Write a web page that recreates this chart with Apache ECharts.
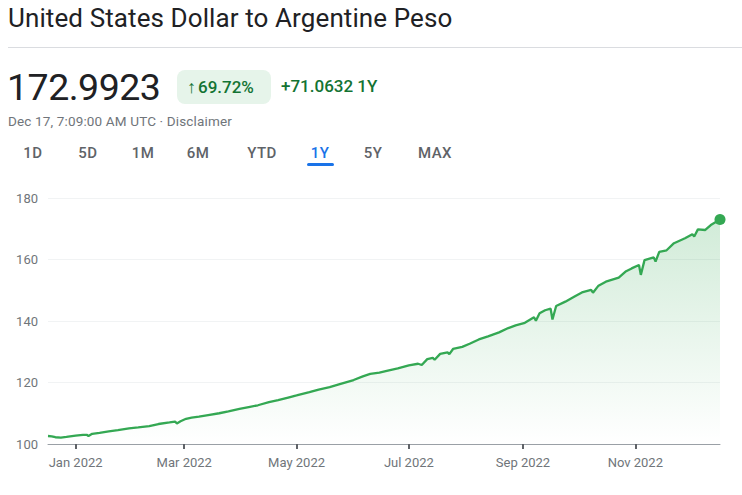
<!DOCTYPE html>
<html>
<head>
<meta charset="utf-8">
<script src="https://cdn.jsdelivr.net/npm/echarts@6/dist/echarts.min.js"></script>
<style>
  html, body { margin: 0; padding: 0; background: #fff; }
  body { width: 742px; height: 495px; position: relative; overflow: hidden; font-family: Roboto, "Noto Sans", sans-serif; }
  #chart { position: absolute; left: 0; top: 0; width: 742px; height: 495px; }
  .abs { position: absolute; white-space: nowrap; }
  #title { left: 8px; top: 3px; font-size: 26px; color: #202124; letter-spacing: 0.1px; }
  #rule { left: 8px; top: 47px; width: 734px; height: 1px; background: #dadce0; }
  #price { left: 7px; top: 65px; font-size: 37.5px; color: #202124; letter-spacing: -0.5px; }
  #pill { left: 177px; top: 70px; width: 94px; height: 34px; border-radius: 8px; background: #e6f4ea; }
  #pct { left: 187px; top: 76px; font-size: 17px; color: #137333; font-weight: 500; }
  #pct .ar { font-size: 18px; margin-right: 2px; }
  #chg { left: 281px; top: 76px; font-size: 17px; color: #137333; font-weight: 500; }
  #stamp { left: 8px; top: 113px; font-size: 13.5px; color: #70757a; letter-spacing: 0.15px; }
  .rng { top: 144px; font-size: 15px; color: #5f6368; font-weight: 500; transform: translateX(-50%); letter-spacing: 0.5px; }
  #ul { left: 307px; top: 163px; width: 27px; height: 3px; border-radius: 2px; background: #1a73e8; }
</style>
</head>
<body>
<div id="chart"></div>
<div class="abs" id="title">United States Dollar to Argentine Peso</div>
<div class="abs" id="rule"></div>
<div class="abs" id="price">172.9923</div>
<div class="abs" id="pill"></div>
<div class="abs" id="pct"><span class="ar">↑</span>69.72%</div>
<div class="abs" id="chg">+71.0632 1Y</div>
<div class="abs" id="stamp">Dec 17, 7:09:00 AM UTC · Disclaimer</div>
<div id="ranges"></div>
<div class="abs" id="ul"></div>
<script>
// ---- data ----
var dates = [
  '2021-12-17','2021-12-19','2021-12-21','2021-12-24','2021-12-27',
  '2022-01-01','2022-01-05','2022-01-07','2022-01-08','2022-01-10','2022-01-14','2022-01-19','2022-01-24','2022-01-30',
  '2022-02-04','2022-02-10','2022-02-15','2022-02-21','2022-02-24','2022-02-25','2022-02-27',
  '2022-03-02','2022-03-05','2022-03-09','2022-03-14','2022-03-20','2022-03-25','2022-03-31',
  '2022-04-05','2022-04-10','2022-04-16','2022-04-21','2022-04-27',
  '2022-05-01','2022-05-08','2022-05-13','2022-05-19','2022-05-24',
  '2022-06-01','2022-06-06','2022-06-10','2022-06-15','2022-06-19','2022-06-25',
  '2022-07-01','2022-07-06','2022-07-08','2022-07-11','2022-07-14','2022-07-15','2022-07-18','2022-07-22','2022-07-23','2022-07-25','2022-07-30',
  '2022-08-03','2022-08-08','2022-08-13','2022-08-19','2022-08-24','2022-08-28',
  '2022-09-02','2022-09-07','2022-09-08','2022-09-10','2022-09-13','2022-09-16','2022-09-17','2022-09-19','2022-09-24','2022-09-29',
  '2022-10-03','2022-10-08','2022-10-09','2022-10-12','2022-10-16','2022-10-23','2022-10-27','2022-10-30',
  '2022-11-03','2022-11-04','2022-11-06','2022-11-11','2022-11-12','2022-11-14','2022-11-18','2022-11-22','2022-11-28',
  '2022-12-02','2022-12-03','2022-12-05','2022-12-09','2022-12-12','2022-12-17'
];
var rates = [
  102.6,102.5,102.2,102.1,102.3,
  102.7,103.0,103.0,102.6,103.3,103.6,104.1,104.5,105.1,
  105.4,105.8,106.5,107.0,107.3,106.7,107.4,
  108.2,108.6,108.9,109.4,110.0,110.6,111.4,
  112.0,112.6,113.6,114.3,115.2,
  115.8,116.9,117.7,118.5,119.4,
  120.8,122.0,122.8,123.2,123.8,124.6,
  125.6,126.1,125.7,127.6,128.0,127.4,129.3,129.8,129.2,130.9,131.6,
  132.6,134.0,135.0,136.3,137.7,138.6,
  139.4,141.2,140.1,142.5,143.5,144.0,140.5,144.9,146.3,148.0,
  149.3,150.1,149.2,151.5,152.8,154.1,156.2,157.1,
  158.2,155.0,159.8,160.7,159.3,162.5,163.0,165.3,166.9,
  168.2,167.5,169.8,169.6,171.2,172.9923
];
var tickDates = ['2022-01-01','2022-03-01','2022-05-01','2022-07-01','2022-09-01','2022-11-01'];
var tickLabels = ['Jan 2022','Mar 2022','May 2022','Jul 2022','Sep 2022','Nov 2022'];
var yTicks = [100, 120, 140, 160, 180];
var rangeLabels = ['1D','5D','1M','6M','YTD','1Y','5Y','MAX'];

// ---- header range buttons ----
var rangeX = [33, 88, 143, 198, 262, 320, 373, 435];
var rc = document.getElementById('ranges');
rangeLabels.forEach(function (t, i) {
  var d = document.createElement('div');
  d.className = 'abs rng';
  d.style.left = rangeX[i] + 'px';
  d.textContent = t;
  if (t === '1Y') d.style.color = '#1a73e8';
  rc.appendChild(d);
});

// ---- chart ----
function ts(s) { var p = s.split('-'); return new Date(+p[0], +p[1] - 1, +p[2]).getTime(); }
var seriesData = dates.map(function (d, i) { return [ts(d), rates[i]]; });
var tickTs = tickDates.map(ts);
var last = seriesData[seriesData.length - 1];

var chart = echarts.init(document.getElementById('chart'), null, { renderer: 'svg' });
chart.setOption({
  animation: false,
  grid: { left: 48, right: 22, top: 198, bottom: 51, containLabel: false },
  xAxis: {
    type: 'value',
    min: ts(dates[0]),
    max: ts(dates[dates.length - 1]),
    axisLine: { show: true, lineStyle: { color: '#9aa0a6', width: 1 } },
    axisTick: { show: true, customValues: tickTs, length: 5, lineStyle: { color: '#5f6368', width: 2 } },
    axisLabel: {
      customValues: tickTs,
      color: '#70757a', fontSize: 13, fontFamily: 'Roboto', margin: 12,
      formatter: function (v) {
        var i = tickTs.indexOf(v);
        return i >= 0 ? tickLabels[i] : '';
      }
    },
    splitLine: { show: false }
  },
  yAxis: {
    type: 'value',
    min: yTicks[0], max: yTicks[yTicks.length - 1], interval: 20,
    axisLine: { show: false }, axisTick: { show: false },
    axisLabel: { color: '#70757a', fontSize: 13, fontFamily: 'Roboto', margin: 10 },
    splitLine: { show: true, lineStyle: { color: '#f1f3f4', width: 1 } }
  },
  series: [
    {
      type: 'line',
      data: seriesData,
      showSymbol: false,
      symbol: 'none',
      smooth: false,
      lineStyle: { color: '#34a853', width: 2.3 },
      areaStyle: {
        origin: 'start',
        color: new echarts.graphic.LinearGradient(0, 0, 0, 1, [
          { offset: 0, color: 'rgba(52,168,83,0.32)' },
          { offset: 1, color: 'rgba(52,168,83,0)' }
        ])
      },
      z: 2
    },
    {
      type: 'scatter',
      data: [last],
      symbolSize: 11,
      itemStyle: { color: '#34a853', opacity: 1 },
      z: 3
    }
  ]
});
</script>
</body>
</html>
